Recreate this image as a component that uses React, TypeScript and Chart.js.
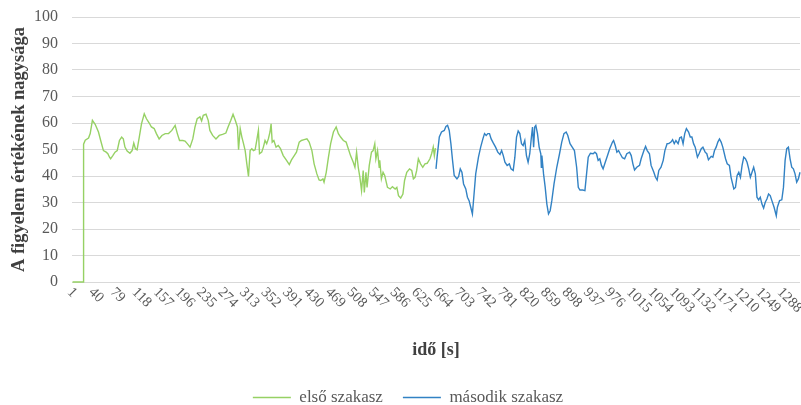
import React, { useEffect, useRef } from 'react';
import { Chart, registerables } from 'chart.js';

Chart.register(...registerables);

// x-axis tick labels (seconds)
const tickLabels = [1, 40, 79, 118, 157, 196, 235, 274, 313, 352, 391, 430, 469, 508, 547, 586, 625, 664, 703, 742, 781, 820, 859, 898, 937, 976, 1015, 1054, 1093, 1132, 1171, 1210, 1249, 1288];

// első szakasz (first section): time [s] and value
const firstTime = [1, 20, 21, 24, 30, 33, 37, 42, 48, 52, 57, 62, 65, 68, 70, 74, 78, 82, 86, 90, 93, 96, 100, 105, 109, 112, 115, 118, 122, 126, 131, 135, 140, 144, 149, 153, 158, 163, 169, 175, 181, 187, 191, 195, 201, 205, 209, 214, 219, 223, 227, 232, 235, 238, 243, 247, 250, 255, 261, 267, 273, 279, 283, 288, 292, 296, 300, 302, 305, 308, 311, 314, 317, 320, 323, 326, 329, 332, 335, 338, 340, 344, 347, 350, 353, 356, 359, 361, 363, 366, 370, 374, 378, 383, 389, 394, 398, 403, 407, 412, 416, 421, 426, 430, 435, 439, 444, 448, 451, 455, 457, 461, 465, 469, 474, 479, 483, 487, 492, 497, 501, 505, 510, 513, 516, 519, 522, 525, 528, 530, 533, 535, 539, 543, 546, 549, 551, 554, 557, 558, 561, 564, 567, 572, 577, 581, 586, 589, 592, 596, 600, 603, 607, 612, 616, 619, 622, 625, 628, 632, 636, 640, 644, 649, 652, 655, 657, 659];
const firstValue = [0, 0, 52, 53.5, 54.3, 56, 61, 59.5, 56.6, 53.4, 49.6, 49, 48.4, 47.1, 46.5, 47.7, 49, 49.6, 53.4, 54.7, 54, 50.9, 49.4, 48.6, 49.6, 52.4, 50.3, 49.9, 54.7, 59.7, 63.5, 61.6, 60, 58.5, 57.9, 56, 54, 55.3, 56, 56, 57.2, 59.1, 56, 53.4, 53.4, 53.2, 52.2, 50.9, 54, 58.5, 61.6, 62.3, 60.8, 62.9, 63.3, 61, 57.2, 55.3, 54, 55.3, 55.7, 56.2, 58.5, 61, 63.3, 61, 58.5, 49.9, 57.9, 54.7, 52.2, 49.6, 44.6, 39.8, 49.6, 50.3, 49.6, 49.9, 53.4, 57.2, 48.4, 49, 50.9, 53.4, 52.2, 54, 56.6, 59.7, 52.8, 53.4, 50.9, 51.5, 50.3, 47.7, 45.9, 44.3, 46.1, 47.7, 49, 52.8, 53.4, 53.7, 54, 52.8, 49.6, 44.6, 40.8, 38.5, 38.3, 38.9, 37.7, 41.4, 47.1, 52.2, 56.6, 58.5, 56, 54.7, 53.4, 52.8, 50.3, 47.7, 45.2, 43.3, 49, 43.3, 39.5, 34.5, 42.1, 33.8, 41.4, 35.7, 44, 49, 49.6, 52.2, 46.5, 49.6, 43.3, 45.9, 38.9, 41.4, 40.2, 35.7, 35.1, 36, 35.1, 35.7, 32.6, 31.7, 33.2, 38.3, 41.4, 42.7, 42.1, 38.9, 39.5, 42.1, 46.5, 44.6, 43.3, 44.6, 44.8, 46.5, 48.4, 50.9, 47.7, 50.5];

// második szakasz (second section): time [s] and value
const secondTime = [660, 662, 666, 670, 675, 678, 681, 684, 687, 690, 693, 698, 701, 704, 707, 710, 714, 717, 720, 723, 726, 729, 732, 737, 741, 745, 748, 751, 754, 757, 760, 764, 768, 772, 776, 779, 782, 785, 789, 793, 796, 800, 803, 806, 809, 812, 815, 818, 821, 824, 827, 830, 833, 835, 837, 839, 841, 844, 847, 850, 851, 852, 855, 858, 861, 864, 867, 870, 874, 879, 884, 888, 892, 896, 899, 903, 907, 911, 915, 918, 921, 926, 930, 933, 936, 940, 945, 948, 951, 954, 957, 960, 963, 966, 971, 975, 980, 982, 985, 988, 991, 994, 998, 1002, 1006, 1011, 1014, 1017, 1020, 1024, 1029, 1032, 1037, 1040, 1043, 1047, 1050, 1055, 1058, 1061, 1064, 1068, 1072, 1075, 1079, 1082, 1086, 1089, 1092, 1095, 1099, 1102, 1105, 1108, 1111, 1114, 1118, 1121, 1124, 1127, 1130, 1134, 1137, 1141, 1144, 1148, 1151, 1154, 1159, 1162, 1165, 1168, 1171, 1174, 1177, 1180, 1185, 1188, 1192, 1195, 1200, 1203, 1206, 1209, 1212, 1215, 1218, 1221, 1224, 1227, 1230, 1233, 1236, 1239, 1242, 1245, 1248, 1251, 1254, 1257, 1260, 1263, 1266, 1269, 1273, 1277, 1279, 1283, 1287, 1290, 1293, 1296, 1299, 1302, 1305, 1308, 1311, 1314, 1317, 1320];
const secondValue = [42.7, 47.1, 54.7, 56.6, 57.2, 58.7, 59.1, 57.2, 52.2, 45.9, 40.2, 38.9, 39.8, 42.7, 41.4, 37, 35.1, 32, 30.7, 28.2, 25.7, 33.2, 40.8, 47.1, 50.9, 54, 56, 55.3, 56, 56, 54, 52.4, 50.9, 49, 48.1, 49.6, 47.7, 45.2, 44, 44.6, 42.7, 42.1, 47.1, 54.7, 57, 56, 52.2, 51.5, 53.4, 47.7, 45.2, 48.4, 54.7, 58.5, 50.9, 58.5, 59.1, 56, 50.9, 48.4, 43.3, 47.7, 40.8, 35.7, 29.4, 25.7, 26.9, 30.7, 37, 43.3, 48.4, 52.8, 56, 56.6, 55.3, 52.2, 50.9, 49.6, 43.3, 35.7, 34.7, 34.7, 34.5, 40.8, 47.1, 48.6, 48.4, 49, 48.4, 45.9, 46.5, 44, 42.7, 44.6, 47.7, 50.3, 52.8, 53.4, 51.5, 49, 49.6, 48.4, 46.9, 46.5, 48.4, 49, 47.7, 44.6, 42.3, 43.3, 44, 46.5, 49.6, 51.2, 49.6, 48.4, 44, 41.4, 39.5, 38.5, 42.1, 43.3, 45.9, 49.6, 52.2, 52.2, 52.8, 53.7, 52.2, 53.4, 52.2, 54.4, 54.7, 52.2, 56, 57.9, 56.6, 54.7, 54.7, 52.2, 50.9, 47.1, 48.4, 50.3, 50.9, 49, 48.4, 46.1, 47.4, 47.1, 49.6, 50.9, 52.8, 54, 52.8, 50.9, 46.5, 44.6, 44, 39.5, 35.1, 35.7, 40.2, 41.4, 39.5, 44, 47.1, 46.5, 45.2, 42.7, 39.5, 41.4, 43.3, 40.8, 32, 31, 32, 29.4, 27.9, 30.1, 31.3, 33.2, 32.6, 30.7, 28.2, 25, 28.2, 30.7, 31, 35.7, 45.9, 50.3, 50.9, 46.5, 43.3, 42.7, 40.8, 37.7, 38.9, 41.4];

const seriesNames = ['első szakasz', 'második szakasz'];
const yTitle = 'A figyelem értékének nagysága';
const xTitle = 'idő [s]';

const SERIF = '"Liberation Serif", "Times New Roman", serif';

const rotatedTicks = {
  id: 'rotatedTicks',
  afterDraw(chart: any) {
    const { ctx, chartArea } = chart;
    const xs = chart.scales.x;
    ctx.save();
    ctx.font = '14.5px ' + SERIF;
    ctx.fillStyle = '#595959';
    ctx.textAlign = 'left';
    ctx.textBaseline = 'middle';
    tickLabels.forEach((v) => {
      const px = xs.getPixelForValue(v);
      ctx.save();
      ctx.translate(px - 3, chartArea.bottom + 8);
      ctx.rotate(Math.PI / 4);
      ctx.fillText(String(v), 0, 0);
      ctx.restore();
    });
    ctx.restore();
  },
};

export default function App() {
  const ref = useRef<HTMLCanvasElement | null>(null);
  useEffect(() => {
    if (!ref.current) return;
    const chart = new Chart(ref.current, {
      type: 'line',
      data: {
        datasets: [
          {
            label: seriesNames[0],
            data: firstTime.map((t, i) => ({ x: t, y: firstValue[i] })),
            borderColor: '#96d164',
            backgroundColor: '#96d164',
            borderWidth: 1.4,
            pointRadius: 0,
            tension: 0,
            clip: false,
          },
          {
            label: seriesNames[1],
            data: secondTime.map((t, i) => ({ x: t, y: secondValue[i] })),
            borderColor: '#3282c4',
            backgroundColor: '#3282c4',
            borderWidth: 1.4,
            pointRadius: 0,
            tension: 0,
            clip: false,
          },
        ],
      },
      options: {
        animation: false,
        responsive: false,
        maintainAspectRatio: false,
        layout: { padding: { top: 17, right: 1, left: 16, bottom: -11 } },
        plugins: {
          tooltip: { enabled: false },
          legend: {
            position: 'bottom',
            labels: {
              usePointStyle: true,
              pointStyle: 'line',
              pointStyleWidth: 38,
              font: { family: SERIF, size: 17 },
              color: '#595959',
              padding: 20,
            },
          },
        },
        scales: {
          x: {
            type: 'linear',
            min: 0,
            max: 1320,
            grid: { display: false },
            border: { display: false },
            ticks: { display: false },
            afterBuildTicks: (scale: any) => {
              scale.ticks = tickLabels.map((v) => ({ value: v }));
            },
            afterFit: (scale: any) => {
              scale.height = 87;
            },
            title: {
              display: true,
              text: xTitle,
              color: '#404040',
              font: { family: SERIF, size: 18, weight: 'bold' },
              padding: { top: 0, bottom: 8 },
            },
          },
          y: {
            min: 0,
            max: 100,
            grid: { color: '#d9d9d9', lineWidth: 1, drawTicks: false },
            border: { display: false },
            ticks: {
              stepSize: 10,
              padding: 14,
              color: '#595959',
              font: { family: SERIF, size: 16 },
            },
            afterFit: (scale: any) => {
              scale.width = 56;
              scale.paddingTop = 0;
              scale.paddingBottom = 0;
            },
            title: {
              display: true,
              text: yTitle,
              color: '#404040',
              font: { family: SERIF, size: 18.5, weight: 'bold' },
              padding: { top: -8, bottom: 0 },
            },
          },
        },
      },
      plugins: [rotatedTicks],
    } as any);
    return () => chart.destroy();
  }, []);
  return (
    <div style={{ position: 'fixed', left: 0, top: 0, width: 801, height: 405, background: '#fff' }}>
      <canvas ref={ref} width={801} height={405} style={{ display: 'block' }} />
    </div>
  );
}
